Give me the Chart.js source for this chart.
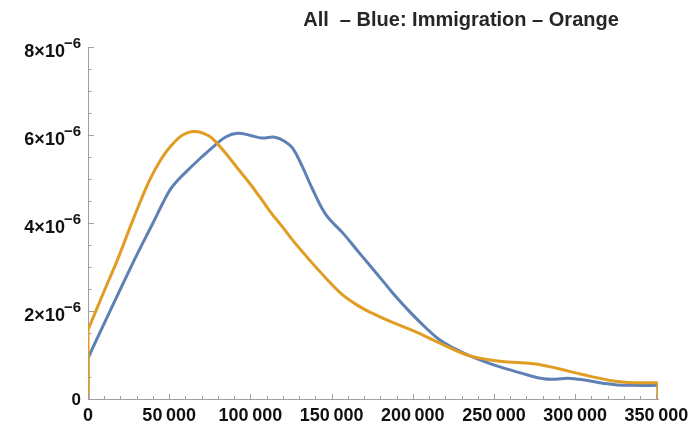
<!DOCTYPE html>
<html>
<head>
<meta charset="utf-8">
<script src="https://cdn.jsdelivr.net/npm/chart.js@4.4.1/dist/chart.umd.min.js"></script>
<style>
  body { margin: 0; background: #fff; }
  canvas { display: block; }
</style>
</head>
<body>
<canvas id="densityChart" width="688" height="425"></canvas>
<script>
// density curves
var titleText = "All  \u2013 Blue: Immigration \u2013 Orange";

var blueX = [0, 10000, 20000, 30000, 40000, 46000, 51000, 56000, 62000, 70000, 78000, 85000, 92000, 100000, 107000, 115000, 121000, 126000, 132000, 138500, 146700, 157000, 167300, 177600, 187900, 198200, 208000, 216700, 226000, 235200, 245000, 253700, 262000, 270200, 280500, 288000, 295000, 302000, 309300, 317000, 325800, 337000, 350500];
var blueY = [0.93e-6, 1.72e-6, 2.50e-6, 3.27e-6, 4.00e-6, 4.45e-6, 4.78e-6, 5.00e-6, 5.22e-6, 5.50e-6, 5.76e-6, 5.96e-6, 6.04e-6, 5.99e-6, 5.93e-6, 5.95e-6, 5.86e-6, 5.70e-6, 5.28e-6, 4.75e-6, 4.18e-6, 3.77e-6, 3.31e-6, 2.86e-6, 2.40e-6, 1.98e-6, 1.62e-6, 1.34e-6, 1.14e-6, 0.98e-6, 0.84e-6, 0.73e-6, 0.64e-6, 0.55e-6, 0.46e-6, 0.45e-6, 0.47e-6, 0.45e-6, 0.41e-6, 0.36e-6, 0.32e-6, 0.31e-6, 0.31e-6];

var orangeX = [0, 9000, 18000, 28000, 38000, 45000, 51000, 57000, 62000, 66000, 71000, 76000, 84000, 92000, 100000, 106000, 113000, 120000, 126000, 136400, 146700, 157000, 167300, 175000, 185000, 202300, 216700, 235200, 253700, 274300, 288700, 305100, 323600, 336000, 350500];
var orangeY = [1.57e-6, 2.37e-6, 3.15e-6, 4.10e-6, 4.98e-6, 5.45e-6, 5.75e-6, 5.97e-6, 6.06e-6, 6.08e-6, 6.04e-6, 5.94e-6, 5.62e-6, 5.25e-6, 4.88e-6, 4.58e-6, 4.22e-6, 3.90e-6, 3.61e-6, 3.16e-6, 2.74e-6, 2.36e-6, 2.10e-6, 1.95e-6, 1.78e-6, 1.52e-6, 1.27e-6, 0.98e-6, 0.86e-6, 0.80e-6, 0.70e-6, 0.55e-6, 0.41e-6, 0.37e-6, 0.37e-6];

var xMax = 351000;
var yMax = 8e-6;
var xStep = 10000, xMajor = 50000, xLastTick = 350000;

var BLUE = '#5e81b5';
var ORANGE = '#e19c24';
var AXIS = '#a0a0a0';
var FONT = '"Liberation Sans", Arial, sans-serif';

function toPoints(xs, ys) {
    var pts = [];
    for (var i = 0; i < xs.length; i++) pts.push({ x: xs[i], y: ys[i] });
    return pts;
}
// vertical jumps from/to zero at both ends of the support
function startEdge(xs, ys) {
    return [{ x: xs[0], y: 0 }, { x: xs[0], y: ys[0] }];
}
function endEdge(xs, ys) {
    var n = xs.length - 1;
    return [{ x: xs[n], y: ys[n] }, { x: xMax, y: ys[n] }, { x: xMax, y: 0 }];
}

function curve(data, color, order) {
    return { data: data, borderColor: color, borderWidth: 3, pointRadius: 0, fill: false,
             tension: 0.4, order: order };
}
function edgeSet(data, color, order) {
    return { data: data, borderColor: color, borderWidth: 3, pointRadius: 0, fill: false,
             tension: 0, order: order };
}

// Mathematica-like ticks pointing into the plot
const innerTicks = {
    id: 'innerTicks',
    afterDatasetsDraw(chart) {
        var ctx = chart.ctx, area = chart.chartArea;
        var xs = chart.scales.x, ys = chart.scales.y;
        ctx.save();
        ctx.strokeStyle = AXIS;
        ctx.lineWidth = 1;
        ctx.beginPath();
        xs.ticks.forEach(function (t) {
            var px = Math.round(xs.getPixelForValue(t.value)) + 0.5;
            var len = t.label !== '' ? 5 : 3;
            ctx.moveTo(px, area.bottom);
            ctx.lineTo(px, area.bottom - len);
        });
        ys.ticks.forEach(function (t) {
            var py = Math.round(ys.getPixelForValue(t.value)) + 0.5;
            var major = Math.abs(t.value / 2e-6 - Math.round(t.value / 2e-6)) < 1e-6;
            var len = major ? 6 : 3.5;
            ctx.moveTo(area.left, py);
            ctx.lineTo(area.left + len, py);
        });
        ctx.stroke();
        ctx.restore();
    }
};

// y labels as  k×10^-6  with a raised exponent
const yLabels = {
    id: 'yLabels',
    afterDraw(chart) {
        var ctx = chart.ctx, ys = chart.scales.y;
        var right = chart.chartArea.left - 7;
        ctx.save();
        ctx.fillStyle = '#111';
        ctx.textAlign = 'right';
        ctx.textBaseline = 'alphabetic';
        ys.ticks.forEach(function (t) {
            var k = Math.round(t.value / 1e-6 * 2) / 2;
            if (k % 2 !== 0) return;
            var py = ys.getPixelForValue(t.value);
            if (k === 0) {
                ctx.font = 'bold 17px ' + FONT;
                ctx.fillText('0', right, py + 6);
                return;
            }
            ctx.font = 'bold 15px ' + FONT;
            var sup = '\u22126';
            var w = ctx.measureText(sup).width;
            ctx.fillText(sup, right, py + 0.5);
            ctx.font = 'bold 18px ' + FONT;
            ctx.fillText(k + '\u00d710', right - w + 1, py + 10);
        });
        ctx.restore();
    }
};

const plotLabel = {
    id: 'plotLabel',
    afterDraw(chart) {
        var ctx = chart.ctx;
        ctx.save();
        ctx.font = 'bold 20px ' + FONT;
        ctx.fillStyle = '#262626';
        ctx.textAlign = 'center';
        ctx.textBaseline = 'alphabetic';
        ctx.fillText(titleText, 461, 26);
        ctx.restore();
    }
};

var ctx = document.getElementById('densityChart');
var densityChart = new Chart(ctx, {
    type: 'line',
    data: {
        datasets: [
            curve(toPoints(orangeX, orangeY), ORANGE, 0),
            edgeSet(startEdge(orangeX, orangeY), ORANGE, 0),
            edgeSet(endEdge(orangeX, orangeY), ORANGE, 0),
            curve(toPoints(blueX, blueY), BLUE, 1),
            edgeSet(startEdge(blueX, blueY), BLUE, 1),
            edgeSet(endEdge(blueX, blueY), BLUE, 1)
        ]
    },
    options: {
        responsive: false,
        animation: false,
        devicePixelRatio: 1,
        layout: { padding: { top: 47, right: 30, left: 0, bottom: 0 } },
        plugins: { legend: { display: false }, tooltip: { enabled: false } },
        scales: {
            x: {
                type: 'linear',
                min: 0,
                max: xMax,
                border: { color: AXIS, width: 1 },
                grid: { display: false, drawTicks: false },
                afterBuildTicks: function (s) {
                    var t = [];
                    for (var v = 0; v <= xLastTick; v += xStep) t.push({ value: v });
                    s.ticks = t;
                },
                ticks: {
                    autoSkip: false,
                    maxRotation: 0,
                    minRotation: 0,
                    padding: 6,
                    color: '#111',
                    font: { family: FONT, size: 18, weight: 'bold' },
                    callback: function (v) {
                        if (v % xMajor !== 0) return '';
                        if (v === 0) return '0';
                        return Math.round(v / 1000) + '\u2009000';
                    }
                },
                // let the last label run off the edge like the original
                afterFit: function (s) { s.height = 26; s.paddingRight = 0; s.paddingLeft = 0; }
            },
            y: {
                type: 'linear',
                min: 0,
                max: yMax,
                border: { color: AXIS, width: 1 },
                grid: { display: false, drawTicks: false },
                ticks: { stepSize: 0.5e-6, autoSkip: false, display: false },
                afterFit: function (s) { s.width = 88; }
            }
        }
    },
    plugins: [innerTicks, yLabels, plotLabel]
});
</script>
</body>
</html>
